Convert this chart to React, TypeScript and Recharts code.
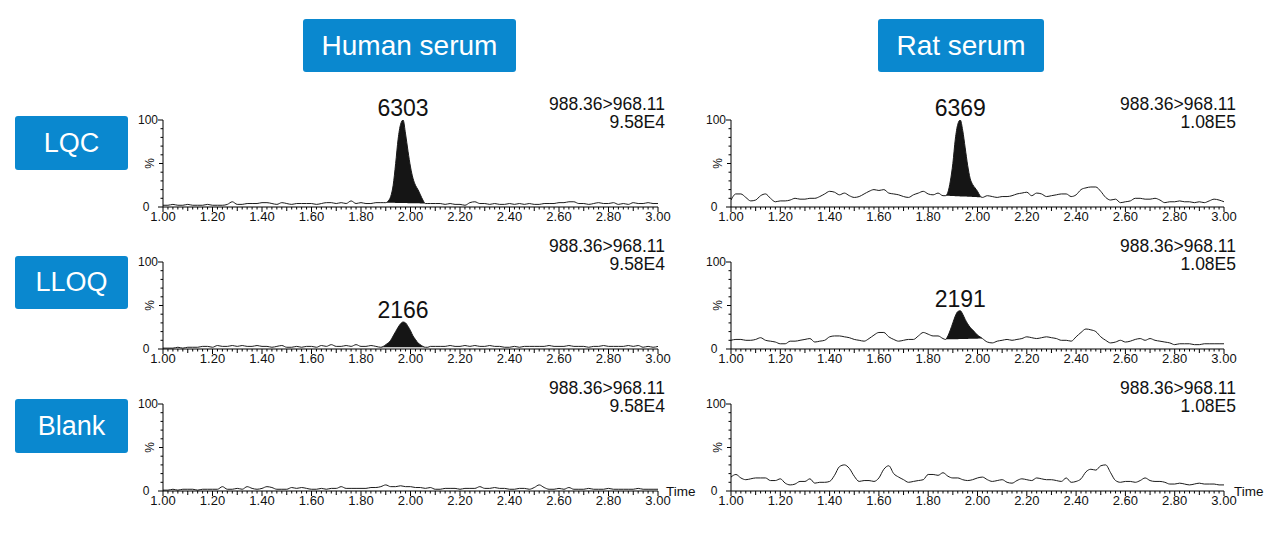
import React from 'react';
import { ComposedChart, Line, Area, XAxis, YAxis, ReferenceDot } from 'recharts';

// ---------- tick labels ----------
const xMajorTicks = [1.0, 1.2, 1.4, 1.6, 1.8, 2.0, 2.2, 2.4, 2.6, 2.8, 3.0];
const xMajorLabels = ['1.00', '1.20', '1.40', '1.60', '1.80', '2.00', '2.20', '2.40', '2.60', '2.80', '3.00'];
const yTickValues = [0, 10, 20, 30, 40, 50, 60, 70, 80, 90, 100];
const yLabels: Record<number, string> = { 0: '0', 100: '100' };

// ---------- categories ----------
const columnTitles = ['Human serum', 'Rat serum'];
const rowTitles = ['LQC', 'LLOQ', 'Blank'];
const transition = '988.36>968.11';
const humanScale = '9.58E4';
const ratScale = '1.08E5';

// sampling grid: 1.00 .. 3.00 min, every 0.02 min
const gridTimes = Array.from({ length: 101 }, (_, i) => Math.round((1 + 0.02 * i) * 100) / 100);

// ---------- series values (% intensity on the 0.02-min grid) ----------
const humanLqcTrace = [
  2, 2, 3, 2, 2, 3, 2, 2, 2, 3, 2, 2, 2, 3, 6, 3, 3, 4, 4, 4,
  5, 5, 4, 3, 5, 4, 3, 4, 4, 4, 4, 3, 4, 5, 5, 4, 5, 4, 7, 4,
  5, 4, 4, 5, 5, 5, 12, 50, 95, 84, 46, 25, 14, 4, 4, 4, 4, 3, 4, 3,
  3, 2, 5, 6, 4, 4, 3, 4, 3, 3, 4, 3, 4, 3, 4, 3, 3, 4, 4, 4,
  5, 5, 6, 6, 4, 4, 3, 4, 5, 4, 4, 5, 3, 4, 3, 5, 4, 4, 5, 4, 4,
];
const ratLqcTrace = [
  8, 15, 15, 11, 7, 8, 13, 15, 10, 6, 7, 7, 8, 10, 9, 9, 10, 10, 12, 15,
  18, 17, 14, 16, 13, 11, 12, 15, 18, 20, 19, 20, 16, 15, 14, 12, 11, 14, 16, 18,
  15, 14, 16, 13, 17, 50, 95, 88, 48, 26, 18, 11, 13, 12, 11, 12, 12, 13, 15, 16,
  17, 13, 16, 15, 12, 13, 14, 15, 15, 12, 14, 20, 22, 23, 23, 18, 11, 8, 9, 5,
  6, 7, 10, 10, 9, 9, 10, 8, 5, 6, 6, 7, 6, 6, 5, 6, 5, 7, 9, 8, 6,
];
const humanLloqTrace = [
  1, 1, 1, 2, 1, 2, 2, 2, 3, 3, 2, 4, 3, 3, 4, 3, 4, 3, 3, 4,
  3, 3, 2, 3, 4, 2, 2, 3, 2, 3, 3, 2, 4, 3, 5, 3, 3, 4, 3, 5,
  3, 3, 4, 3, 2, 5, 10, 20, 29, 30, 21, 11, 5, 2, 3, 3, 3, 3, 4, 3,
  3, 4, 3, 4, 3, 3, 4, 3, 3, 2, 2, 3, 2, 3, 3, 3, 3, 3, 4, 3,
  3, 3, 4, 3, 3, 3, 2, 3, 3, 4, 3, 3, 3, 3, 4, 3, 4, 2, 3, 2, 3,
];
const ratLloqTrace = [
  10, 11, 11, 10, 10, 11, 13, 10, 9, 8, 6, 6, 9, 9, 10, 11, 12, 8, 9, 10,
  14, 15, 15, 14, 13, 11, 10, 9, 12, 16, 19, 19, 14, 11, 9, 10, 11, 11, 15, 19,
  17, 15, 15, 12, 15, 30, 43, 40, 29, 22, 16, 12, 8, 7, 9, 10, 11, 10, 11, 12,
  14, 13, 12, 13, 14, 13, 12, 10, 10, 9, 14, 19, 23, 22, 20, 14, 10, 7, 8, 10,
  8, 9, 11, 12, 10, 12, 10, 9, 8, 7, 5, 6, 6, 6, 5, 5, 6, 6, 6, 6, 6,
];
const humanBlankTrace = [
  1, 1, 2, 1, 2, 2, 2, 1, 2, 2, 2, 2, 5, 2, 2, 3, 2, 5, 3, 2,
  3, 5, 4, 2, 2, 2, 4, 3, 4, 3, 2, 2, 3, 2, 3, 3, 5, 3, 3, 3,
  3, 3, 4, 4, 5, 7, 5, 5, 6, 5, 5, 4, 4, 3, 4, 2, 2, 3, 3, 3,
  2, 3, 3, 3, 5, 3, 3, 4, 3, 3, 2, 2, 3, 3, 2, 4, 7, 4, 2, 2,
  3, 2, 4, 2, 2, 2, 3, 2, 2, 2, 3, 2, 2, 2, 2, 2, 3, 2, 2, 2, 2,
];
const ratBlankTrace = [
  16, 19, 15, 13, 14, 15, 15, 15, 12, 12, 14, 9, 7, 8, 11, 11, 14, 9, 10, 10,
  11, 18, 28, 30, 26, 17, 11, 12, 12, 11, 15, 25, 29, 20, 16, 13, 10, 11, 12, 13,
  19, 19, 18, 21, 17, 15, 15, 13, 12, 13, 15, 16, 13, 11, 12, 13, 10, 9, 12, 14,
  13, 12, 15, 14, 13, 13, 12, 11, 15, 10, 11, 14, 22, 25, 24, 29, 30, 21, 12, 10,
  11, 11, 10, 12, 15, 12, 11, 11, 10, 8, 8, 9, 8, 7, 8, 9, 8, 8, 8, 7, 7,
];

// ---------- integrated peaks (finer 0.01-min sampling) ----------
const humanLqcPeakT = [1.89, 1.9, 1.91, 1.92, 1.93, 1.94, 1.95, 1.96, 1.97, 1.98, 1.99, 2.0, 2.01, 2.02, 2.03, 2.04, 2.05, 2.06, 2.07];
const humanLqcPeakY = [5, 5, 7, 12, 25, 50, 78, 95, 100, 84, 64, 46, 33, 25, 20, 14, 8, 4, 4];
const ratLqcPeakT = [1.87, 1.88, 1.89, 1.9, 1.91, 1.92, 1.93, 1.94, 1.95, 1.96, 1.97, 1.98, 1.99, 2.0, 2.01, 2.02];
const ratLqcPeakY = [13, 17, 30, 50, 78, 95, 100, 88, 68, 48, 33, 26, 22, 18, 13, 11];
const humanLloqPeakT = [1.88, 1.89, 1.9, 1.91, 1.92, 1.93, 1.94, 1.95, 1.96, 1.97, 1.98, 1.99, 2.0, 2.01, 2.02, 2.03, 2.04, 2.05, 2.06, 2.07];
const humanLloqPeakY = [2, 3, 5, 7, 10, 15, 20, 25, 29, 31, 30, 26, 21, 15, 11, 7, 5, 3, 2, 2];
const ratLloqPeakT = [1.87, 1.88, 1.89, 1.9, 1.91, 1.92, 1.93, 1.94, 1.95, 1.96, 1.97, 1.98, 1.99, 2.0, 2.01, 2.02];
const ratLloqPeakY = [11, 15, 22, 30, 38, 43, 44, 40, 34, 29, 25, 22, 19, 16, 14, 12];

const peakAreas = { humanLqc: '6303', ratLqc: '6369', humanLloq: '2166', ratLloq: '2191' };

// ---------- layout ----------
const BLUE = '#0a88cf';
const FONT = '"Liberation Sans", Arial, Helvetica, sans-serif';
const PLOT_H = 87;
const TOP_M = 30;
const Y_AXIS_W = 60;
const X_AXIS_H = 30;
const RIGHT_M = 50;

type PanelDef = {
  axisX: number;
  y100: number;
  plotW: number;
  trace: number[];
  peakT?: number[];
  peakY?: number[];
  area?: string;
  scale: string;
};

function buildData(trace: number[], peakT?: number[], peakY?: number[]) {
  const rows: { t: number; y: number; band: [number, number] | null }[] = [];
  if (!peakT || !peakY) {
    gridTimes.forEach((t, i) => rows.push({ t, y: trace[i], band: null }));
    return rows;
  }
  const t0 = peakT[0];
  const t1 = peakT[peakT.length - 1];
  const b0 = peakY[0];
  const b1 = peakY[peakY.length - 1];
  gridTimes.forEach((t, i) => {
    if (t < t0 - 1e-6 || t > t1 + 1e-6) rows.push({ t, y: trace[i], band: null });
  });
  peakT.forEach((t, i) => {
    const base = b0 + ((b1 - b0) * (t - t0)) / (t1 - t0);
    rows.push({ t, y: peakY[i], band: [base, peakY[i]] });
  });
  rows.sort((a, b) => a.t - b.t);
  return rows;
}

const XTick = (props: any) => {
  const { x, y, payload } = props;
  const v: number = payload.value;
  const k = Math.round((v - 1) * 100);
  const major = k % 20 === 0;
  const mid = k % 10 === 0;
  const len = major ? 5 : mid ? 4 : 2.5;
  const mi = xMajorTicks.findIndex((m) => Math.abs(m - v) < 1e-6);
  return (
    <g>
      <line x1={x} x2={x} y1={y} y2={y + len} stroke="#000" strokeWidth={1} />
      {major && mi >= 0 && (
        <text x={x} y={y + 14} textAnchor="middle" fontSize={13} fontFamily={FONT} fill="#111">
          {xMajorLabels[mi]}
        </text>
      )}
    </g>
  );
};

const YTick = (props: any) => {
  const { x, y, payload } = props;
  const v: number = payload.value;
  const len = v === 0 || v === 100 ? 5 : v === 50 ? 4 : 2.5;
  const labelGap = v === 0 ? 13.5 : 5;
  return (
    <g>
      <line x1={x - len} x2={x} y1={y} y2={y} stroke="#000" strokeWidth={1} />
      {yLabels[v] !== undefined && (
        <text x={x - labelGap} y={y + 3.5} textAnchor="end" fontSize={12} fontFamily={FONT} fill="#111">
          {yLabels[v]}
        </text>
      )}
      {v === 50 && (
        <text
          transform={`translate(${x - 9},${y}) rotate(-90)`}
          textAnchor="middle"
          fontSize={12}
          fontFamily={FONT}
          fill="#111"
        >
          %
        </text>
      )}
    </g>
  );
};

const Panel = ({ def }: { def: PanelDef }) => {
  const data = buildData(def.trace, def.peakT, def.peakY);
  const width = Y_AXIS_W + def.plotW + RIGHT_M;
  const height = TOP_M + PLOT_H + X_AXIS_H;
  let apexT = 0;
  let apexY = 0;
  if (def.peakT && def.peakY) {
    def.peakY.forEach((v, i) => {
      if (v > apexY) {
        apexY = v;
        apexT = def.peakT![i];
      }
    });
  }
  return (
    <div style={{ position: 'absolute', left: def.axisX - Y_AXIS_W, top: def.y100 - TOP_M, width, height }}>
      <ComposedChart width={width} height={height} data={data} margin={{ top: TOP_M, right: RIGHT_M, left: 0, bottom: 0 }}>
        <XAxis
          dataKey="t"
          type="number"
          domain={[1, 3]}
          ticks={gridTimes}
          interval={0}
          height={X_AXIS_H}
          tickSize={0}
          tickMargin={0}
          tickLine={false}
          tick={<XTick />}
          axisLine={{ stroke: '#000', strokeWidth: 1 }}
          allowDataOverflow
        />
        <YAxis
          type="number"
          domain={[0, 100]}
          ticks={yTickValues}
          interval={0}
          width={Y_AXIS_W}
          tickSize={0}
          tickMargin={0}
          tickLine={false}
          tick={<YTick />}
          axisLine={{ stroke: '#000', strokeWidth: 1 }}
          allowDataOverflow
        />
        <Area
          dataKey="band"
          type="monotone"
          stroke="none"
          fill="#151515"
          fillOpacity={1}
          connectNulls={false}
          isAnimationActive={false}
          dot={false}
          activeDot={false}
        />
        <Line
          dataKey="y"
          type="monotone"
          stroke="#1a1a1a"
          strokeWidth={1}
          dot={false}
          activeDot={false}
          isAnimationActive={false}
        />
        {def.area && (
          <ReferenceDot
            x={apexT}
            y={apexY}
            r={0}
            fill="none"
            stroke="none"
            ifOverflow="visible"
            label={{ value: def.area, position: 'top', offset: 4, fontSize: 23, fill: '#111', fontFamily: FONT }}
          />
        )}
      </ComposedChart>
    </div>
  );
};

const Box = ({ left, top, width, height, text, fontSize }: any) => (
  <div
    style={{
      position: 'absolute',
      left,
      top,
      width,
      height,
      background: BLUE,
      borderRadius: 3,
      color: '#fff',
      fontFamily: FONT,
      fontSize,
      display: 'flex',
      alignItems: 'center',
      justifyContent: 'center',
    }}
  >
    {text}
  </div>
);

const Info = ({ right, top, scale }: { right: number; top: number; scale: string }) => (
  <div
    style={{
      position: 'absolute',
      left: right - 200,
      top,
      width: 200,
      textAlign: 'right',
      fontFamily: FONT,
      fontSize: 17.5,
      lineHeight: '18px',
      color: '#111',
    }}
  >
    <div>{transition}</div>
    <div>{scale}</div>
  </div>
);

export default function App() {
  const rowsY = [120, 262, 404];
  const leftAxis = 163;
  const rightAxis = 731;
  const panels: PanelDef[] = [
    { axisX: leftAxis, y100: rowsY[0], plotW: 495, trace: humanLqcTrace, peakT: humanLqcPeakT, peakY: humanLqcPeakY, area: peakAreas.humanLqc, scale: humanScale },
    { axisX: rightAxis, y100: rowsY[0], plotW: 493, trace: ratLqcTrace, peakT: ratLqcPeakT, peakY: ratLqcPeakY, area: peakAreas.ratLqc, scale: ratScale },
    { axisX: leftAxis, y100: rowsY[1], plotW: 495, trace: humanLloqTrace, peakT: humanLloqPeakT, peakY: humanLloqPeakY, area: peakAreas.humanLloq, scale: humanScale },
    { axisX: rightAxis, y100: rowsY[1], plotW: 493, trace: ratLloqTrace, peakT: ratLloqPeakT, peakY: ratLloqPeakY, area: peakAreas.ratLloq, scale: ratScale },
    { axisX: leftAxis, y100: rowsY[2], plotW: 495, trace: humanBlankTrace, scale: humanScale },
    { axisX: rightAxis, y100: rowsY[2], plotW: 493, trace: ratBlankTrace, scale: ratScale },
  ];
  return (
    <div style={{ position: 'absolute', left: 0, top: 0, width: 1280, height: 538, background: '#fff', overflow: 'hidden', fontFamily: FONT }}>
      <Box left={303} top={19} width={213} height={53} text={columnTitles[0]} fontSize={28} />
      <Box left={878} top={19} width={166} height={53} text={columnTitles[1]} fontSize={28} />
      <Box left={15} top={116} width={113} height={54} text={rowTitles[0]} fontSize={27} />
      <Box left={15} top={256} width={113} height={53} text={rowTitles[1]} fontSize={27} />
      <Box left={15} top={399} width={113} height={54} text={rowTitles[2]} fontSize={27} />
      {panels.map((p, i) => (
        <React.Fragment key={i}>
          <Panel def={p} />
          <Info right={p.axisX === leftAxis ? 665 : 1236} top={p.y100 - 25} scale={p.scale} />
        </React.Fragment>
      ))}
      <div style={{ position: 'absolute', left: 666, top: 484, fontSize: 13.5, lineHeight: '16px', fontFamily: FONT, color: '#111' }}>Time</div>
      <div style={{ position: 'absolute', left: 1234, top: 484, fontSize: 13.5, lineHeight: '16px', fontFamily: FONT, color: '#111' }}>Time</div>
    </div>
  );
}
